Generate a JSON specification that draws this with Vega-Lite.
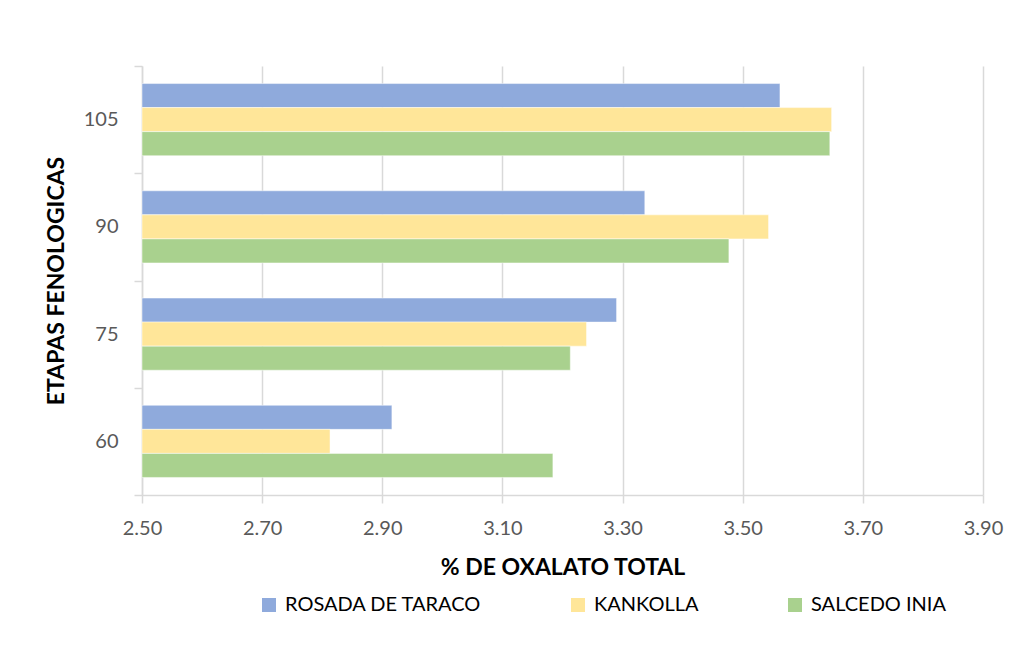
{
  "$schema": "https://vega.github.io/schema/vega-lite/v6.json",
  "width": 841,
  "height": 429,
  "autosize": {"type": "none"},
  "padding": {"left": 142, "top": 66, "right": 38, "bottom": 160},
  "background": "white",
  "data": {
    "values": [
      {"etapa": "105", "variedad": "ROSADA DE TARACO", "valor": 3.562},
      {"etapa": "105", "variedad": "KANKOLLA", "valor": 3.648},
      {"etapa": "105", "variedad": "SALCEDO INIA", "valor": 3.645},
      {"etapa": "90", "variedad": "ROSADA DE TARACO", "valor": 3.337},
      {"etapa": "90", "variedad": "KANKOLLA", "valor": 3.543},
      {"etapa": "90", "variedad": "SALCEDO INIA", "valor": 3.477},
      {"etapa": "75", "variedad": "ROSADA DE TARACO", "valor": 3.290},
      {"etapa": "75", "variedad": "KANKOLLA", "valor": 3.240},
      {"etapa": "75", "variedad": "SALCEDO INIA", "valor": 3.213},
      {"etapa": "60", "variedad": "ROSADA DE TARACO", "valor": 2.916},
      {"etapa": "60", "variedad": "KANKOLLA", "valor": 2.813},
      {"etapa": "60", "variedad": "SALCEDO INIA", "valor": 3.184}
    ]
  },
  "mark": {"type": "bar", "stroke": "white", "strokeWidth": 0.8, "strokeOpacity": 0.6},
  "encoding": {
    "y": {
      "field": "etapa",
      "type": "nominal",
      "sort": ["105", "90", "75", "60"],
      "scale": {"paddingInner": 0, "paddingOuter": 0},
      "axis": {
        "title": "ETAPAS FENOLOGICAS",
        "titleFontSize": 23,
        "titleFontWeight": "bold",
        "titleColor": "#000000",
        "titlePadding": 15,
        "tickBand": "extent",
        "tickSize": 8,
        "tickColor": "#D9D9D9",
        "tickWidth": 1.5,
        "domainColor": "#D9D9D9",
        "domainWidth": 1.5,
        "labelFontSize": 20,
        "labelColor": "#595959",
        "labelPadding": 16,
        "grid": false
      }
    },
    "yOffset": {
      "field": "variedad",
      "type": "nominal",
      "sort": ["ROSADA DE TARACO", "KANKOLLA", "SALCEDO INIA"],
      "scale": {"paddingInner": 0, "paddingOuter": 0.73}
    },
    "x": {
      "field": "valor",
      "type": "quantitative",
      "scale": {"domain": [2.5, 3.9], "zero": false, "nice": false},
      "axis": {
        "title": "% DE OXALATO TOTAL",
        "titleFontSize": 23,
        "titleFontWeight": "bold",
        "titleColor": "#000000",
        "titlePadding": 18,
        "values": [2.5, 2.7, 2.9, 3.1, 3.3, 3.5, 3.7, 3.9],
        "format": ".2f",
        "labelFlush": false,
        "tickSize": 8,
        "tickColor": "#D9D9D9",
        "tickWidth": 1.5,
        "domainColor": "#D9D9D9",
        "domainWidth": 1.5,
        "gridColor": "#D9D9D9",
        "gridWidth": 1.5,
        "labelFontSize": 20,
        "labelColor": "#595959",
        "labelPadding": 15
      }
    },
    "x2": {"datum": 2.5},
    "color": {
      "field": "variedad",
      "type": "nominal",
      "sort": ["ROSADA DE TARACO", "KANKOLLA", "SALCEDO INIA"],
      "scale": {
        "domain": ["ROSADA DE TARACO", "KANKOLLA", "SALCEDO INIA"],
        "range": ["#8FAADC", "#FFE699", "#A9D18E"]
      },
      "legend": {
        "title": null,
        "orient": "none",
        "direction": "horizontal",
        "legendX": 117,
        "legendY": 529,
        "columns": 3,
        "columnPadding": 86,
        "symbolType": "square",
        "symbolSize": 196,
        "symbolStrokeWidth": 0,
        "labelFontSize": 20,
        "labelColor": "#000000",
        "labelOffset": 6,
        "labelLimit": 400
      }
    }
  },
  "config": {
    "font": "Lato",
    "view": {"stroke": null}
  }
}
